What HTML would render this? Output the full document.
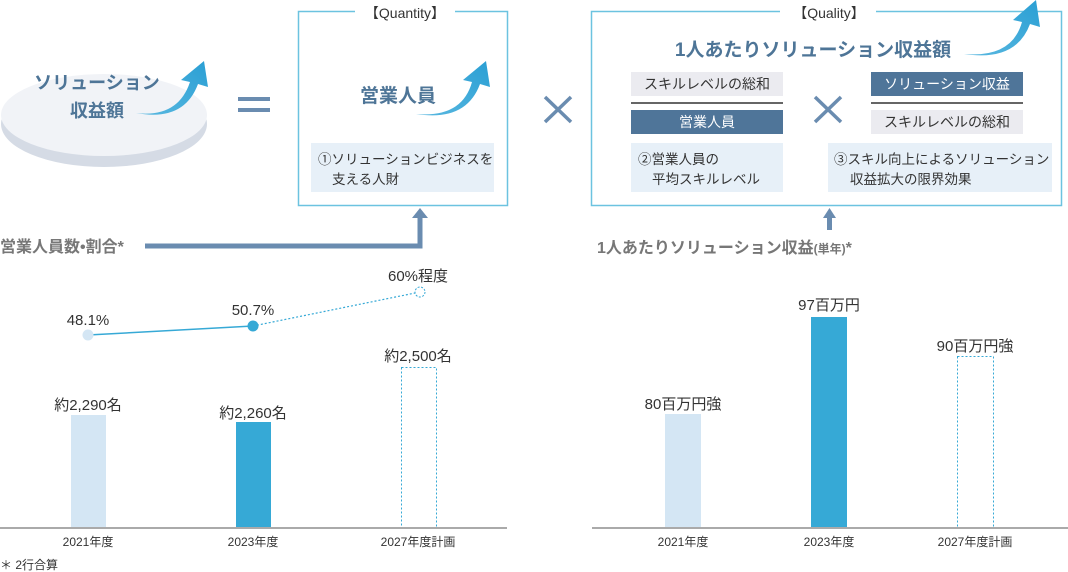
<!DOCTYPE html>
<html><head><meta charset="utf-8"><style>
html,body{margin:0;padding:0;background:#fff}
svg{display:block}
text{font-family:"Liberation Sans","Noto Sans CJK JP",sans-serif}
</style></head><body>
<svg width="1068" height="572" viewBox="0 0 1068 572" xmlns="http://www.w3.org/2000/svg">
<defs>
<linearGradient id="ag" x1="0" y1="1" x2="1" y2="0"><stop offset="0" stop-color="#5ab8e0"/><stop offset="1" stop-color="#2a9fd4"/></linearGradient>
</defs>
<!-- disk -->
<ellipse cx="104" cy="124" rx="103" ry="43" fill="#d5dbe5"/>
<ellipse cx="104" cy="115" rx="103" ry="41" fill="#f1f3f7"/>
<text x="97" y="89" font-size="18" font-weight="bold" fill="#4e7597" text-anchor="middle">ソリューション</text>
<text x="97" y="117" font-size="18" font-weight="bold" fill="#4e7597" text-anchor="middle">収益額</text>
<path d="M136 113 Q178 118 190 82 L181 80 L204 61 L208 87 L198 84 Q184 122 136 113 Z" fill="url(#ag)"/>
<!-- = -->
<rect x="238" y="97" width="32" height="4" fill="#6a8cb0"/>
<rect x="238" y="108" width="32" height="4" fill="#6a8cb0"/>
<!-- Quantity box -->
<rect x="298.5" y="11.5" width="209" height="194" fill="none" stroke="#6cc3e0" stroke-width="1.5"/>
<rect x="355" y="4" width="100" height="16" fill="#fff"/>
<text x="405" y="18" font-size="14" fill="#333" text-anchor="middle">【Quantity】</text>
<text x="398" y="102" font-size="19" font-weight="bold" fill="#4e7597" text-anchor="middle">営業人員</text>
<path d="M416 114 Q462 118 472 82 L463 80 L486 61 L490 87 L480 84 Q466 122 416 114 Z" fill="url(#ag)"/>
<rect x="311" y="143" width="183" height="49" fill="#e7f0f8"/>
<text x="318" y="164" font-size="13.5" fill="#333">①ソリューションビジネスを</text>
<text x="332" y="184" font-size="13.5" fill="#333">支える人財</text>
<!-- x -->
<path d="M545 97 L571 122 M571 97 L545 122" stroke="#6a8cb0" stroke-width="3.5"/>
<!-- Quality box -->
<rect x="591.5" y="11.5" width="470" height="194" fill="none" stroke="#6cc3e0" stroke-width="1.5"/>
<rect x="780" y="4" width="96" height="16" fill="#fff"/>
<text x="829" y="18" font-size="14" fill="#333" text-anchor="middle">【Quality】</text>
<text x="813" y="56" font-size="19" font-weight="bold" fill="#4e7597" text-anchor="middle">1人あたりソリューション収益額</text>
<path d="M964 54 Q1012 58 1022 22 L1013 20 L1036 0 L1040 27 L1030 24 Q1016 62 964 54 Z" fill="url(#ag)"/>
<rect x="631" y="72" width="152" height="24" fill="#ebebf0"/>
<text x="707" y="89" font-size="14" fill="#333" text-anchor="middle">スキルレベルの総和</text>
<rect x="631" y="102" width="152" height="2" fill="#666"/>
<rect x="631" y="110" width="152" height="24" fill="#4f7599"/>
<text x="707" y="127" font-size="14" fill="#fff" text-anchor="middle">営業人員</text>
<rect x="631" y="143" width="152" height="49" fill="#e7f0f8"/>
<text x="638" y="164" font-size="13.5" fill="#333">②営業人員の</text>
<text x="652" y="184" font-size="13.5" fill="#333">平均スキルレベル</text>
<path d="M815 97 L841 122 M841 97 L815 122" stroke="#6a8cb0" stroke-width="3.5"/>
<rect x="871" y="72" width="152" height="24" fill="#4f7599"/>
<text x="947" y="89" font-size="14" fill="#fff" text-anchor="middle">ソリューション収益</text>
<rect x="871" y="102" width="152" height="2" fill="#666"/>
<rect x="871" y="110" width="152" height="24" fill="#ebebf0"/>
<text x="947" y="127" font-size="14" fill="#333" text-anchor="middle">スキルレベルの総和</text>
<rect x="828" y="143" width="224" height="49" fill="#e7f0f8"/>
<text x="834" y="164" font-size="13.5" fill="#333">③スキル向上によるソリューション</text>
<text x="850" y="184" font-size="13.5" fill="#333">収益拡大の限界効果</text>
<!-- connectors -->
<path d="M145 246 L420 246 L420 216" fill="none" stroke="#6a8cb0" stroke-width="5"/>
<path d="M412 218 L420 208 L428 218 Z" fill="#6a8cb0"/>
<rect x="827" y="216" width="5" height="14" fill="#6a8cb0"/>
<path d="M823 218 L829.5 208 L836 218 Z" fill="#6a8cb0"/>
<text x="0" y="252" font-size="16" font-weight="bold" fill="#777">営業人員数•割合*</text>
<text x="597" y="253" font-size="16" font-weight="bold" fill="#777">1人あたりソリューション収益<tspan font-size="12">(単年)</tspan>*</text>
<!-- left chart -->
<rect x="71" y="415" width="35" height="113" fill="#d4e6f4"/>
<rect x="236" y="422" width="35" height="106" fill="#36a9d6"/>
<rect x="401.5" y="367.5" width="35" height="160" fill="none" stroke="#36a9d6" stroke-width="1" stroke-dasharray="2,2"/>
<rect x="0" y="527" width="507" height="2" fill="#aaa"/>
<line x1="88" y1="335" x2="253" y2="326" stroke="#36a9d6" stroke-width="1.5"/>
<line x1="253" y1="326" x2="420" y2="292" stroke="#36a9d6" stroke-width="1.2" stroke-dasharray="2,2"/>
<circle cx="88" cy="335" r="5.5" fill="#d4e6f4"/>
<circle cx="253" cy="326" r="5.5" fill="#36a9d6"/>
<circle cx="420" cy="292" r="5" fill="#fff" stroke="#36a9d6" stroke-dasharray="2,1.5"/>
<g font-size="15" fill="#333" text-anchor="middle">
<text x="88" y="325">48.1%</text>
<text x="253" y="315">50.7%</text>
<text x="418" y="281">60%程度</text>
<text x="88" y="410">約2,290名</text>
<text x="253" y="418">約2,260名</text>
<text x="418" y="361">約2,500名</text>
<text x="683" y="409">80百万円強</text>
<text x="829" y="310">97百万円</text>
<text x="975" y="351">90百万円強</text>
</g>
<g font-size="12" fill="#333" text-anchor="middle">
<text x="88" y="546">2021年度</text>
<text x="253" y="546">2023年度</text>
<text x="418" y="546">2027年度計画</text>
<text x="683" y="546">2021年度</text>
<text x="829" y="546">2023年度</text>
<text x="975" y="546">2027年度計画</text>
</g>
<text x="0" y="569" font-size="12" fill="#333">＊ 2行合算</text>
<!-- right chart -->
<rect x="665" y="414" width="36" height="114" fill="#d4e6f4"/>
<rect x="811" y="317" width="36" height="211" fill="#36a9d6"/>
<rect x="957.5" y="356.5" width="36" height="171" fill="none" stroke="#36a9d6" stroke-width="1" stroke-dasharray="2,2"/>
<rect x="592" y="527" width="476" height="2" fill="#aaa"/>
</svg>
</body></html>
